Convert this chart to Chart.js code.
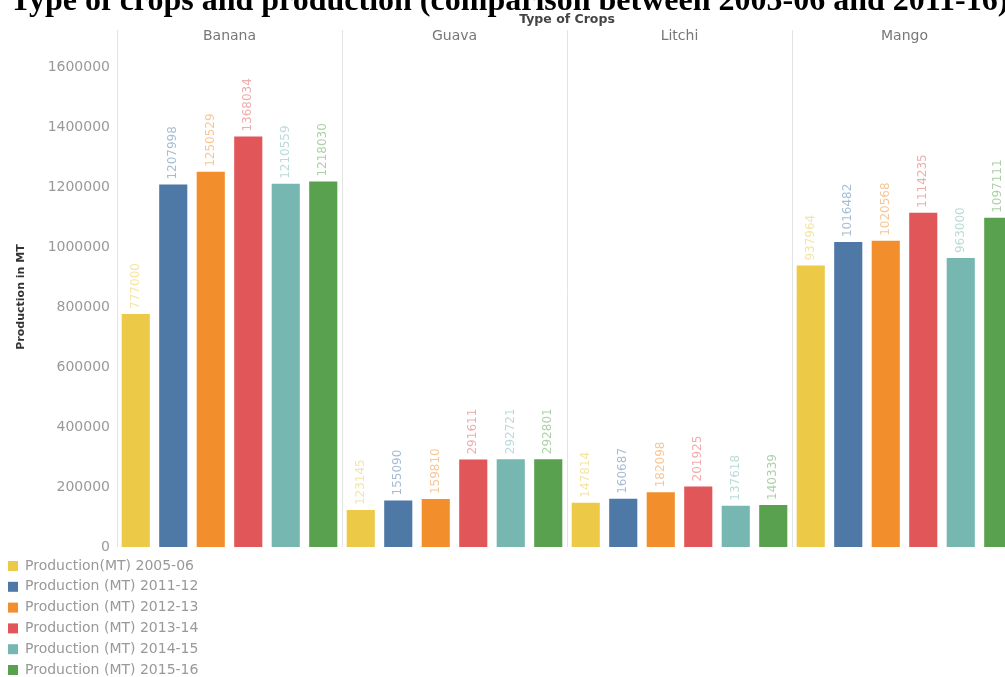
<!DOCTYPE html>
<html>
<head>
<meta charset="utf-8">
<script src="https://cdn.jsdelivr.net/npm/chart.js@4/dist/chart.umd.min.js"></script>
<style>
  html, body { margin: 0; padding: 0; background: #fff; overflow: hidden; width: 1005px; height: 677px; }
  #wrap { position: relative; width: 1005px; height: 677px; overflow: hidden; }
  #chart { position: absolute; left: 0; top: 0; }
  #title {
    position: absolute; left: 10px; top: -17px; white-space: nowrap;
    font: bold 32px "Liberation Serif", "Times New Roman", serif; color: #000;
    line-height: 32px;
  }
</style>
</head>
<body>
<div id="wrap">
  <canvas id="chart" width="1020" height="677"></canvas>
  <div id="title">Type of crops and production (comparison between 2005-06 and 2011-16)</div>
</div>
<script>
// Data
const categories = ['Banana', 'Guava', 'Litchi', 'Mango'];
const seriesLabels = [
  'Production(MT) 2005-06',
  'Production (MT) 2011-12',
  'Production (MT) 2012-13',
  'Production (MT) 2013-14',
  'Production (MT) 2014-15',
  'Production (MT) 2015-16'
];
const prod0506 = [777000, 123145, 147814, 937964];
const prod1112 = [1207998, 155090, 160687, 1016482];
const prod1213 = [1250529, 159810, 182098, 1020568];
const prod1314 = [1368034, 291611, 201925, 1114235];
const prod1415 = [1210559, 292721, 137618, 963000];
const prod1516 = [1218030, 292801, 140339, 1097111];
const yTicks = [0, 200000, 400000, 600000, 800000, 1000000, 1200000, 1400000, 1600000];

const colors = ['#EDC948', '#4E79A7', '#F28E2B', '#E15759', '#76B7B2', '#59A14F'];
const seriesValues = [prod0506, prod1112, prod1213, prod1314, prod1415, prod1516];

const FONT = '"DejaVu Sans", "Open Sans", sans-serif';

function fade(hex, a) {
  const n = parseInt(hex.slice(1), 16);
  return `rgba(${(n >> 16) & 255}, ${(n >> 8) & 255}, ${n & 255}, ${a})`;
}

// Header row, separators, value labels, axis title and legend
const decorations = {
  id: 'decorations',
  beforeDatasetsDraw(chart) {
    const { ctx, chartArea, scales } = chart;
    const x = scales.x;
    const step = (chartArea.right - chartArea.left) / categories.length;
    ctx.save();
    ctx.strokeStyle = '#e3e3e3';
    ctx.lineWidth = 1;
    for (let i = 0; i <= categories.length; i++) {
      const lx = Math.round(chartArea.left + step * i) + 0.5;
      ctx.beginPath();
      ctx.moveTo(lx, 30);
      ctx.lineTo(lx, chartArea.bottom);
      ctx.stroke();
    }
    ctx.fillStyle = '#777';
    ctx.font = '14px ' + FONT;
    ctx.textAlign = 'center';
    ctx.textBaseline = 'middle';
    categories.forEach((c, i) => {
      ctx.fillText(c, x.getPixelForValue(i), 36);
    });
    ctx.fillStyle = '#444';
    ctx.font = 'bold 12.5px ' + FONT;
    ctx.fillText('Type of Crops', 567, 20);
    ctx.restore();
  },
  afterDraw(chart) {
    const { ctx } = chart;
    ctx.save();
    // value labels above the bars
    ctx.font = '12px ' + FONT;
    ctx.textAlign = 'left';
    ctx.textBaseline = 'middle';
    chart.data.datasets.forEach((ds, di) => {
      chart.getDatasetMeta(di).data.forEach((bar, i) => {
        ctx.save();
        ctx.translate(bar.x, bar.y - 5);
        ctx.rotate(-Math.PI / 2);
        ctx.fillStyle = fade(colors[di], 0.5);
        ctx.fillText(String(ds.data[i]), 0, 0);
        ctx.restore();
      });
    });
    // y axis title
    ctx.save();
    ctx.translate(21, 297);
    ctx.rotate(-Math.PI / 2);
    ctx.fillStyle = '#333';
    ctx.font = 'bold 11px ' + FONT;
    ctx.textAlign = 'center';
    ctx.textBaseline = 'middle';
    ctx.fillText('Production in MT', 0, 0);
    ctx.restore();
    // legend
    ctx.font = '14px ' + FONT;
    ctx.textAlign = 'left';
    ctx.textBaseline = 'middle';
    chart.data.datasets.forEach((ds, di) => {
      const y = 566 + di * 20.8;
      ctx.fillStyle = colors[di];
      ctx.fillRect(8, y - 5, 10, 10);
      ctx.fillStyle = '#999';
      ctx.fillText(ds.label, 25, y);
    });
    ctx.restore();
  }
};

new Chart(document.getElementById('chart'), {
  type: 'bar',
  data: {
    labels: categories,
    datasets: seriesValues.map((vals, i) => ({
      label: seriesLabels[i],
      data: vals,
      backgroundColor: colors[i],
      categoryPercentage: 1.0,
      barPercentage: 0.75
    }))
  },
  options: {
    responsive: false,
    animation: false,
    layout: { padding: { top: 67, bottom: 130, left: 0, right: 3 } },
    plugins: {
      legend: { display: false },
      tooltip: { enabled: false }
    },
    scales: {
      x: { display: false },
      y: {
        min: 0,
        max: 1600000,
        afterFit(scale) { scale.width = 117; },
        afterBuildTicks(scale) { scale.ticks = yTicks.map(v => ({ value: v })); },
        grid: { display: false, drawTicks: false },
        border: { display: false },
        ticks: {
          padding: 7,
          color: '#999',
          font: { family: FONT, size: 14 },
          callback: v => String(v)
        }
      }
    }
  },
  plugins: [decorations]
});
</script>
</body>
</html>
